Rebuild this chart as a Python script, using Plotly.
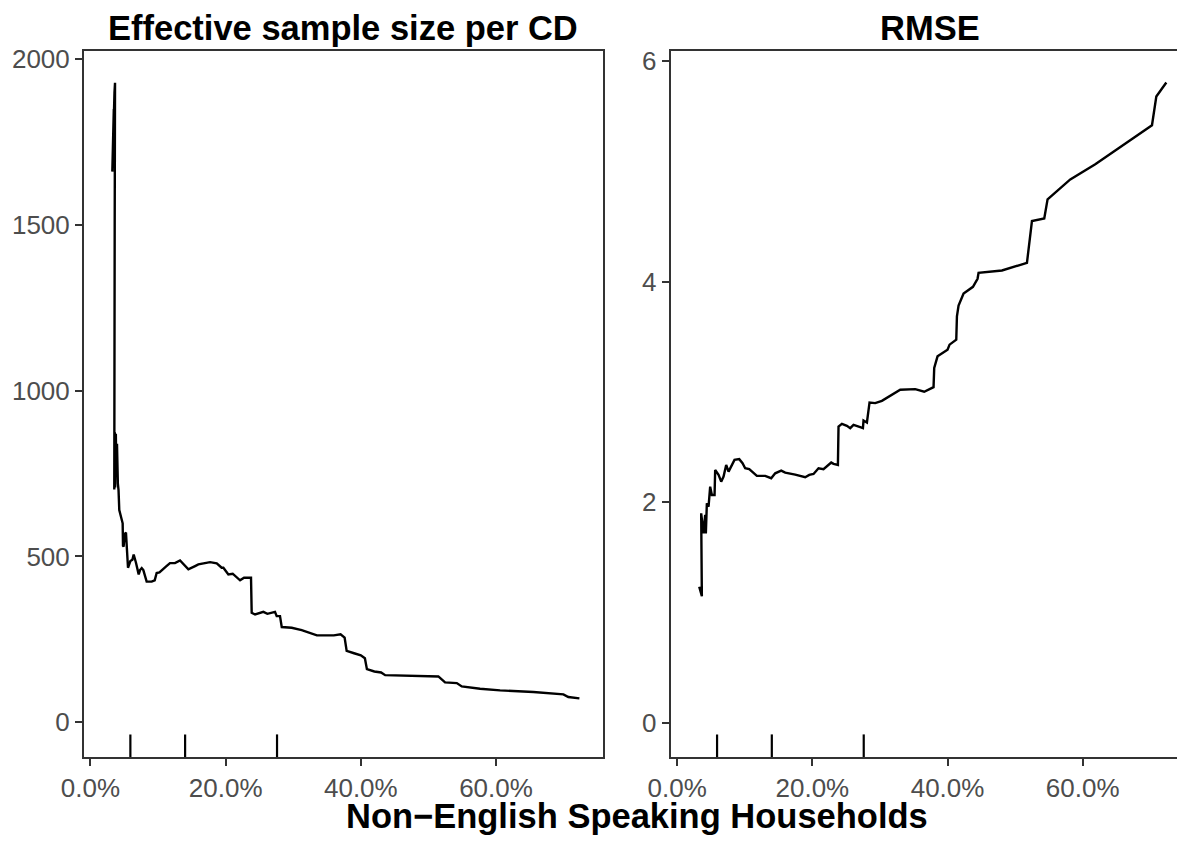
import plotly.graph_objects as go

# ---- data (x as share of households) ----
ess_x = [0.0323, 0.0330, 0.0328, 0.0345, 0.0342, 0.0355, 0.0363, 0.0358, 0.0355, 0.0352,
         0.0352, 0.0360, 0.0365, 0.0375, 0.0382, 0.0392, 0.0405, 0.0415, 0.0426, 0.0440,
         0.0456, 0.0476, 0.0481, 0.0490, 0.0506, 0.0525, 0.0555, 0.0590, 0.0620, 0.0639,
         0.0673, 0.0713, 0.0733, 0.0758, 0.0782, 0.0806, 0.0831, 0.0860, 0.0905, 0.0950,
         0.0979, 0.1020, 0.1053, 0.1120, 0.1176, 0.1250, 0.1325, 0.1399, 0.1448, 0.1547,
         0.1596, 0.1769, 0.1868, 0.1941, 0.1966, 0.2040, 0.2104, 0.2213, 0.2272, 0.2375,
         0.2385, 0.2435, 0.2558, 0.2617, 0.2730, 0.2755, 0.2804, 0.2830, 0.2977, 0.3125,
         0.3250, 0.3350, 0.3600, 0.3700, 0.3760, 0.3790, 0.3900, 0.4000, 0.4060, 0.4090,
         0.4200, 0.4300, 0.4360, 0.4580, 0.5147, 0.5246, 0.5420, 0.5493, 0.5764, 0.6060,
         0.6553, 0.6997, 0.7070, 0.7234]
ess_y = [1661, 1745, 1700, 1850, 1800, 1900, 1929, 1500, 1100, 879,
         702, 875, 708, 870, 760, 840, 720, 700, 640, 630,
         620, 600, 532, 530, 567, 572, 466, 486, 490, 506,
         481, 446, 459, 465, 459, 445, 424, 424, 424, 428,
         450, 452, 459, 470, 480, 480, 488, 471, 461, 471,
         476, 483, 479, 466, 466, 446, 448, 428, 436, 436,
         330, 325, 333, 327, 333, 320, 320, 287, 285, 278,
         268, 262, 262, 265, 255, 215, 208, 202, 193, 160,
         153, 150, 142, 141, 138, 120, 118, 108, 101, 96,
         91, 84, 76, 72]

rmse_x = [0.0326, 0.0365, 0.0355, 0.0390, 0.0414, 0.0424, 0.0439, 0.0464, 0.0488, 0.0513,
          0.0553, 0.0562, 0.0612, 0.0651, 0.0686, 0.0725, 0.0760, 0.0799, 0.0848, 0.0918,
          0.0967, 0.1006, 0.1066, 0.1179, 0.1302, 0.1391, 0.1450, 0.1539, 0.1598, 0.1746,
          0.1894, 0.1954, 0.2017, 0.2091, 0.2165, 0.2279, 0.2314, 0.2378, 0.2387, 0.2437,
          0.2511, 0.2560, 0.2609, 0.2708, 0.2748, 0.2757, 0.2807, 0.2846, 0.2930, 0.3029,
          0.3300, 0.3522, 0.3655, 0.3793, 0.3803, 0.3852, 0.4000, 0.4030, 0.4129, 0.4139,
          0.4163, 0.4237, 0.4376, 0.4444, 0.4459, 0.4805, 0.5175, 0.5249, 0.5431, 0.5480,
          0.5816, 0.6186, 0.7025, 0.7089, 0.7237]
rmse_y = [1.233, 1.148, 1.899, 1.717, 1.884, 1.717, 1.990, 1.959, 2.141, 2.065,
          2.065, 2.292, 2.247, 2.186, 2.232, 2.338, 2.277, 2.322, 2.383, 2.390,
          2.353, 2.308, 2.299, 2.238, 2.238, 2.217, 2.262, 2.286, 2.268, 2.250,
          2.226, 2.247, 2.256, 2.308, 2.299, 2.359, 2.347, 2.338, 2.686, 2.710,
          2.692, 2.671, 2.701, 2.680, 2.671, 2.740, 2.722, 2.904, 2.898, 2.919,
          3.019, 3.025, 3.001, 3.043, 3.216, 3.322, 3.382, 3.428, 3.473, 3.685,
          3.782, 3.891, 3.952, 4.025, 4.079, 4.100, 4.170, 4.548, 4.572, 4.745,
          4.926, 5.063, 5.417, 5.677, 5.805]

rug_x = [0.059, 0.140, 0.276]

x_ticks = [0.0, 0.2, 0.4, 0.6]
ess_ticks = [0, 500, 1000, 1500, 2000]
rmse_ticks = [0, 2, 4, 6]

titles = ["Effective sample size per CD", "RMSE"]
x_title = "Non\u2212English Speaking Households"

# ---- figure ----
W, H = 1185, 844
FONT = "Liberation Sans, Arial, Helvetica, sans-serif"
AX = "#333333"
TICKTXT = "#4D4D4D"
TICK_SIZE = 26
TITLE_SIZE = 34.5
OFF = 8.0  # page body margin

# panel frames in page pixels, converted to figure pixels
p1 = (83.8 - OFF, 602.8 - OFF)
p2 = (670.5 - OFF, 1189.5 - OFF)
top, bottom = 51.0 - OFF, 757.0 - OFF
ydom = [1 - bottom / H, 1 - top / H]

fig = go.Figure()
fig.add_trace(go.Scatter(x=ess_x, y=ess_y, mode="lines", xaxis="x", yaxis="y",
                         line=dict(color="black", width=2.4), showlegend=False,
                         hoverinfo="skip"))
fig.add_trace(go.Scatter(x=rmse_x, y=rmse_y, mode="lines", xaxis="x2", yaxis="y2",
                         line=dict(color="black", width=2.4), showlegend=False,
                         hoverinfo="skip"))

# rug marks
for xr, yr in (("x", "y domain"), ("x2", "y2 domain")):
    for v in rug_x:
        fig.add_shape(type="line", xref=xr, yref=yr, x0=v, x1=v, y0=0, y1=0.032,
                      line=dict(color="black", width=2.2))

common_x = dict(tickvals=x_ticks, tickformat=".1%", ticks="outside", ticklen=7,
                tickwidth=1.6, tickcolor=AX, showline=True, linecolor=AX, linewidth=1.6,
                showgrid=False, zeroline=False, automargin=False, mirror=True,
                range=[-0.0099, 0.758],
                tickfont=dict(family=FONT, size=TICK_SIZE, color=TICKTXT))
common_y = dict(ticks="outside", ticklen=7, tickwidth=1.6, tickcolor=AX,
                showline=True, linecolor=AX, linewidth=1.6, showgrid=False,
                zeroline=False, automargin=False, mirror=True, domain=ydom,
                tickfont=dict(family=FONT, size=TICK_SIZE, color=TICKTXT))

fig.update_layout(
    width=W, height=H,
    margin=dict(l=0, r=0, t=0, b=0, autoexpand=False),
    paper_bgcolor="white", plot_bgcolor="white",
    xaxis=dict(domain=[p1[0] / W, p1[1] / W], anchor="y", **common_x),
    yaxis=dict(range=[-105, 2025], tickvals=ess_ticks, anchor="x", **common_y),
    xaxis2=dict(domain=[p2[0] / W, p2[1] / W], anchor="y2", **common_x),
    yaxis2=dict(range=[-0.31, 6.09], tickvals=rmse_ticks, anchor="x2", **common_y),
    annotations=[
        dict(text="<b>%s</b>" % titles[0], x=(p1[0] + p1[1]) / 2 / W, y=1.0,
             xref="paper", yref="paper", xanchor="center", yanchor="top", borderpad=0,
             showarrow=False, font=dict(family=FONT, size=TITLE_SIZE, color="black")),
        dict(text="<b>%s</b>" % titles[1], x=(p2[0] + p2[1]) / 2 / W, y=1.0,
             xref="paper", yref="paper", xanchor="center", yanchor="top", borderpad=0,
             showarrow=False, font=dict(family=FONT, size=TITLE_SIZE, color="black")),
        dict(text="<b>%s</b>" % x_title, x=(p1[0] + p2[1]) / 2 / W, y=1 - 808 / H,
             xref="paper", yref="paper", xanchor="center", yanchor="middle", borderpad=0,
             showarrow=False, font=dict(family=FONT, size=TITLE_SIZE, color="black")),
    ],
)

fig.write_html("out.html")
